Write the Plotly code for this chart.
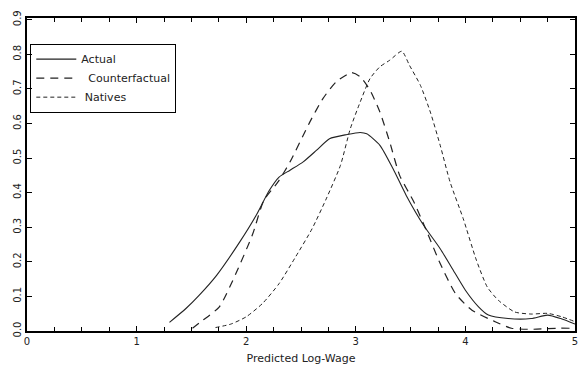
import plotly.graph_objects as go

actual_x = [1.30, 1.45, 1.57, 1.73, 1.94, 2.09, 2.21, 2.30, 2.40, 2.52, 2.64, 2.76, 2.92, 3.04, 3.10,
            3.22, 3.34, 3.46, 3.62, 3.77, 3.90, 4.00, 4.12, 4.21, 4.39, 4.60, 4.75, 4.87, 5.00]
actual_y = [0.025, 0.065, 0.103, 0.161, 0.257, 0.334, 0.406, 0.445, 0.465, 0.489, 0.522, 0.556, 0.568, 0.574, 0.570,
            0.537, 0.469, 0.392, 0.305, 0.238, 0.170, 0.118, 0.070, 0.046, 0.036, 0.036, 0.046, 0.036, 0.020]

counter_x = [1.51, 1.60, 1.755, 1.906, 2.06, 2.16, 2.29, 2.40, 2.58, 2.70, 2.82, 2.96, 3.04, 3.13,
             3.22, 3.31, 3.40, 3.53, 3.65, 3.77, 3.91, 4.06, 4.27, 4.42, 4.60, 4.85, 4.95]
counter_y = [0.008, 0.030, 0.070, 0.166, 0.281, 0.377, 0.431, 0.489, 0.604, 0.672, 0.720, 0.747, 0.735, 0.696,
             0.633, 0.546, 0.450, 0.373, 0.286, 0.195, 0.108, 0.060, 0.027, 0.008, 0.005, 0.008, 0.008]

natives_x = [1.72, 1.86, 2.00, 2.15, 2.30, 2.45, 2.60, 2.73, 2.86, 2.95, 3.04, 3.13, 3.22, 3.31, 3.42,
             3.49, 3.59, 3.68, 3.77, 3.86, 3.98, 4.10, 4.20, 4.30, 4.45, 4.60, 4.75, 4.88, 5.00]
natives_y = [0.010, 0.020, 0.041, 0.080, 0.137, 0.214, 0.295, 0.382, 0.479, 0.585, 0.662, 0.730, 0.764, 0.783, 0.809,
             0.768, 0.710, 0.633, 0.537, 0.431, 0.325, 0.205, 0.127, 0.089, 0.055, 0.049, 0.051, 0.041, 0.027]

series_names = ["Actual", "  Counterfactual", " Natives"]

x_ticks = [0, 1, 2, 3, 4, 5]
y_ticks = [0.0, 0.1, 0.2, 0.3, 0.4, 0.5, 0.6, 0.7, 0.8, 0.9]
y_labels = ["0.0", "0.1", "0.2", "0.3", "0.4", "0.5", "0.6", "0.7", "0.8", "0.9"]

FONT = "DejaVu Sans"
INK = "#222222"

fig = go.Figure()
fig.add_trace(go.Scatter(x=actual_x, y=actual_y, mode="lines", name=series_names[0],
                         line=dict(color=INK, width=1.1, shape="spline", smoothing=0.6)))
fig.add_trace(go.Scatter(x=counter_x, y=counter_y, mode="lines", name=series_names[1],
                         line=dict(color=INK, width=1.2, dash="8px,6px", shape="spline", smoothing=0.6)))
fig.add_trace(go.Scatter(x=natives_x, y=natives_y, mode="lines", name=series_names[2],
                         line=dict(color=INK, width=1.0, dash="4px,3px", shape="spline", smoothing=0.6)))

axis_common = dict(showline=True, linecolor="black", linewidth=2, mirror="ticks",
                   ticks="inside", tickcolor="black", showgrid=False, zeroline=False)

fig.update_layout(
    width=582, height=372,
    margin=dict(l=27, r=4, t=18, b=41),
    paper_bgcolor="white", plot_bgcolor="white",
    font=dict(family=FONT, size=10, color=INK),
    showlegend=True,
    legend=dict(x=0.006, y=0.918, xanchor="left", yanchor="top",
                bordercolor="black", borderwidth=1, bgcolor="rgba(0,0,0,0)",
                font=dict(family=FONT, size=11, color=INK),
                itemwidth=40, tracegroupgap=0),
    xaxis=dict(range=[0, 5], tickvals=x_ticks, ticklen=5,
               minor=dict(dtick=0.25, ticks="inside", ticklen=4, tickcolor="black"),
               title=dict(text="Predicted Log-Wage", font=dict(family=FONT, size=11, color=INK), standoff=8),
               tickfont=dict(family=FONT, size=10, color=INK),
               **axis_common),
    yaxis=dict(range=[0, 0.905], tickvals=y_ticks, ticktext=y_labels, ticklen=5,
               tickangle=-90, tickfont=dict(family=FONT, size=10, color=INK),
               **axis_common),
)

fig.write_html("out.html")
